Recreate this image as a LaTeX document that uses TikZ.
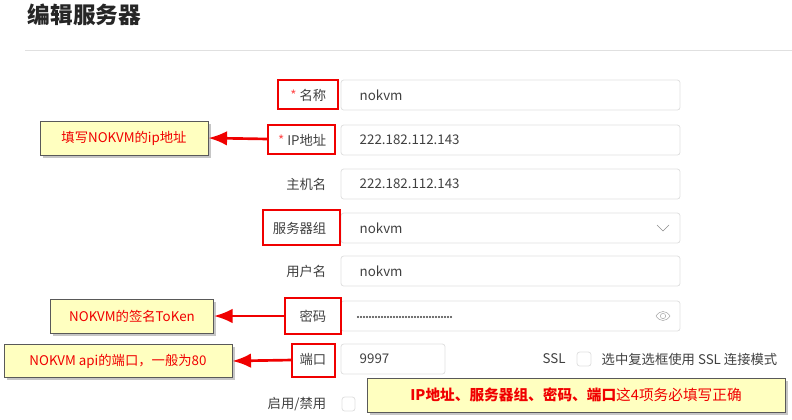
\documentclass[tikz,border=0pt]{standalone}
\usepackage{fontspec}
\setmainfont{Noto Sans CJK SC}
\usetikzlibrary{shadows,arrows.meta}
\definecolor{notefill}{HTML}{FFFFC0}
\definecolor{redline}{HTML}{F00000}
\begin{document}
\begin{tikzpicture}[x=0.75pt,y=-0.75pt,>=latex]
        % background
        \useasboundingbox (0,0) rectangle (792,419);
        \tikzset{
          lbl/.style={anchor=east,font=\fontsize{10}{12}\selectfont,text=black!75},
          val/.style={anchor=west,font=\fontsize{10}{12}\selectfont,text=black!75},
          field/.style={draw=black!12,rounded corners=2pt,line width=.6pt},
          redmark/.style={draw=redline,line width=1.8pt},
          note/.style={draw=black!65,fill=notefill,line width=.6pt,drop shadow={opacity=.45,shadow xshift=2pt,shadow yshift=-2pt},
                       text=redline,font=\fontsize{10}{12}\selectfont,inner sep=0pt},
          pointer/.style={draw=redline,line width=2pt,-{Latex[length=14pt,width=11pt]}}
        }
        \node[anchor=west,font=\fontsize{17}{20}\bfseries\selectfont,text=black!85] (title) at (23,15) {编辑服务器};
        \draw[black!12] (25,50) -- (792,50);
        % form rows
        \foreach \y/\t in {95/{\textcolor{red!70}{*} 名称},140/{\textcolor{red!70}{*} IP地址},184/主机名,228/服务器组,271/用户名,316/密码,359/端口,404/{启用/禁用}}
          \node[lbl] at (331,\y) {\t};
        \foreach \y in {95,140,184,228,271,316}
          \draw[field] (341,\y-15) rectangle (680,\y+15);
        \draw[field] (341,344) rectangle (445,374);
        \foreach \y/\t in {95/nokvm,140/222.182.112.143,184/222.182.112.143,228/nokvm,271/nokvm,359/9997}
          \node[val] at (355,\y) {\t};
        \foreach \i in {0,...,31} \fill[black!75] (358+\i*3,317) circle (.85pt);
        \draw[black!45] (657,225) -- (663,231) -- (669,225);
        \draw[black!35] (656,316) .. controls (660,310) and (666,310) .. (670,316) .. controls (666,322) and (660,322) .. (656,316);
        \draw[black!35] (663,316) circle (2pt);
        \node[val] at (538,359) {SSL};
        \draw[field] (577,352) rectangle (591,366);
        \node[val] at (597,359) {选中复选框使用 SSL 连接模式};
        \draw[field] (342,397) rectangle (355,411);
        % red marks
        \draw[redmark] (278,80) rectangle (338,109);
        \draw[redmark] (268,125) rectangle (335,154);
        \draw[redmark] (263,210) rectangle (340,245);
        \draw[redmark] (285,298) rectangle (341,334);
        \draw[redmark] (292,344) rectangle (335,377);
        % notes
        \node[note,minimum width=168pt*0.75,minimum height=34pt*0.75] (ipnote) at (124,138) {填写NOKVM的ip地址};
        \node[note,minimum width=163pt*0.75,minimum height=34pt*0.75] (tokennote) at (132,316) {NOKVM的签名ToKen};
        \node[note,minimum width=228pt*0.75,minimum height=33pt*0.75] (portnote) at (118,361) {NOKVM api的端口，一般为80};
        \node[note,minimum width=418pt*0.75,minimum height=34pt*0.75,font=\fontsize{11}{13}\bfseries\selectfont] (allnote) at (576,395) {IP地址、服务器组、密码、端口\textmd{这4项务必填写正确}};
        \coordinate (ipmark) at (268,139);
        \coordinate (tokenmark) at (285,316);
        \coordinate (portmark) at (292,360);
        \draw[pointer] (ipmark) -- (ipnote.east);
        \draw[pointer] (tokenmark) -- (tokennote.east);
        \draw[pointer] (portmark) -- (portnote.east);
\end{tikzpicture}
\end{document}
